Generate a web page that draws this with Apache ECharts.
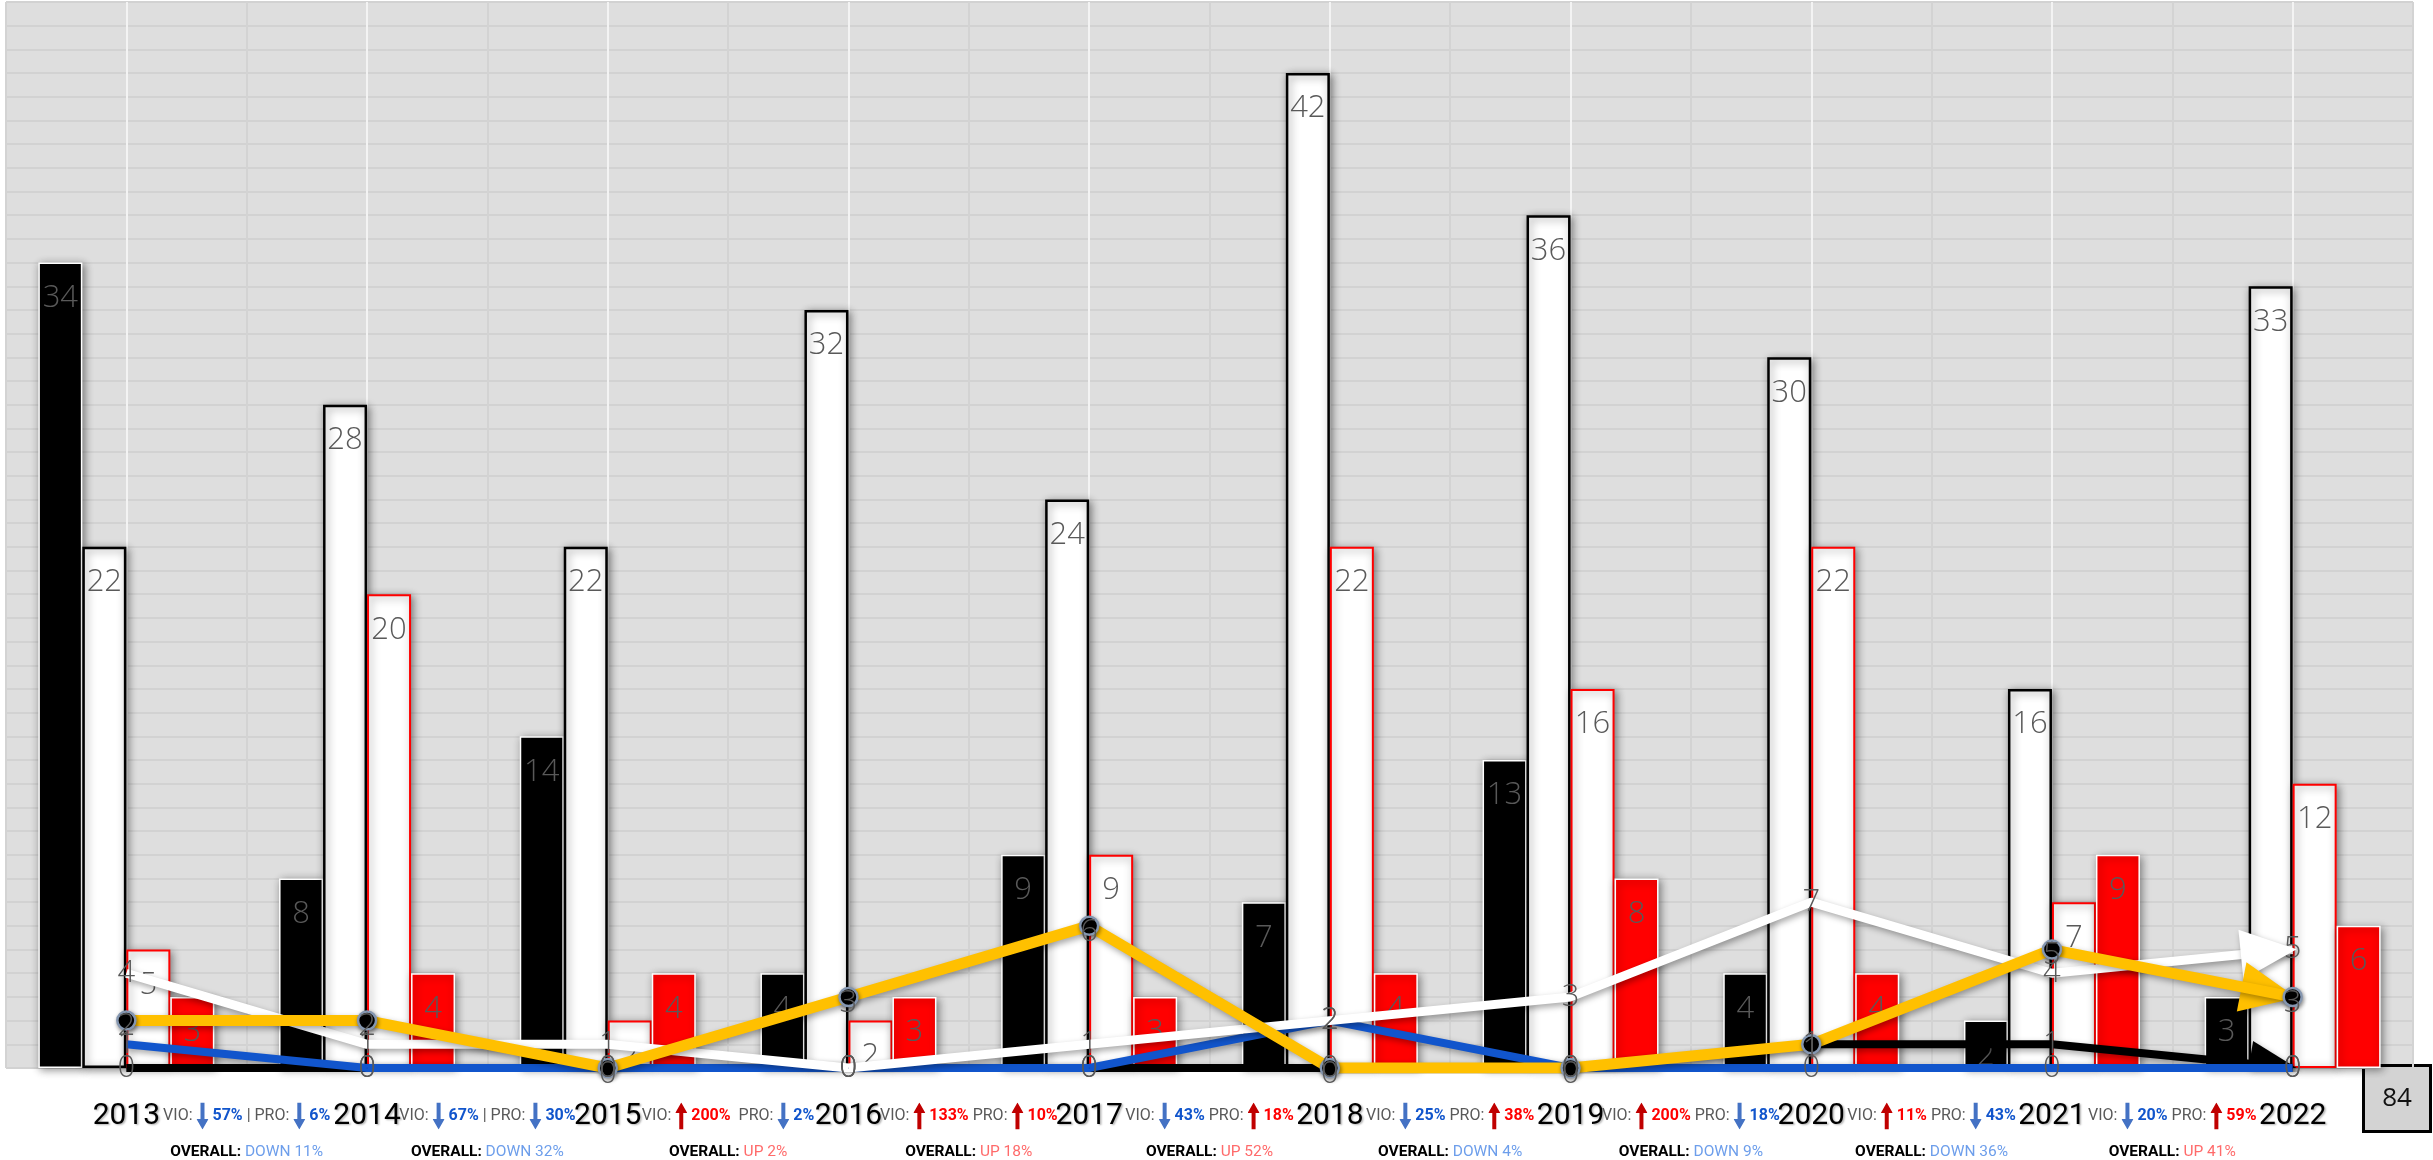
<!DOCTYPE html>
<html>
<head>
<meta charset="utf-8">
<script src="https://cdn.jsdelivr.net/npm/echarts@6/dist/echarts.min.js"></script>
<style>
html,body{margin:0;padding:0;background:#ffffff;}
#chart{width:2433px;height:1160px;}
</style>
</head>
<body>
<div id="chart"></div>
<script>
// ---------- DATA ----------
const years = ['2013','2014','2015','2016','2017','2018','2019','2020','2021','2022'];

const barBlack    = [34, 8, 14, 4, 9, 7, 13, 4, 2, 3];
const barWhite    = [22, 28, 22, 32, 24, 42, 36, 30, 16, 33];
const barWhiteRed = [5, 20, 2, 2, 9, 22, 16, 22, 7, 12];
const barRed      = [3, 4, 4, 3, 3, 4, 8, 4, 9, 6];

const lineWhite  = [4, 1, 1, 0, 1, 2, 3, 7, 4, 5];
const lineYellow = [2, 2, 0, 3, 6, 0, 0, 1, 5, 3];
const lineBlue   = [1, 0, 0, 0, 0, 2, 0, 0, 0, 0];
const lineBlack  = [0, 0, 0, 0, 0, 0, 0, 1, 1, 0];

// year-over-year annotations (between consecutive years)
const vioDir     = ['down','down','up','up','down','down','up','up','down'];
const vioPct     = [57, 67, 200, 133, 43, 25, 200, 11, 20];
const proDir     = ['down','down','down','up','up','up','down','down','up'];
const proPct     = [6, 30, 2, 10, 18, 38, 18, 43, 59];
const vioProSep  = [' | ', ' | ', '  ', ' ', ' ', ' ', ' ', ' ', ' '];
const overallDir = ['DOWN','DOWN','UP','UP','UP','DOWN','DOWN','DOWN','UP'];
const overallPct = [11, 32, 2, 18, 52, 4, 9, 36, 41];

const totalBox = '84';
const yMin = 0, yMax = 45, yInterval = 1;

// ---------- HELPERS ----------
const LABEL_FONT = "'Open Sans','Noto Sans',sans-serif";
const YEAR_FONT = "'Roboto','Noto Sans',sans-serif";
const ANNO_FONT = "'Roboto','Noto Sans',sans-serif";

function svgUri(svg){ return 'data:image/svg+xml;charset=utf-8,' + encodeURIComponent(svg); }
const arrowDownImg = svgUri('<svg xmlns="http://www.w3.org/2000/svg" width="12" height="28" viewBox="0 0 12 28"><path d="M4 0H8V17H12L6 28L0 17H4Z" fill="#4472C4"/></svg>');
const arrowUpImg = svgUri('<svg xmlns="http://www.w3.org/2000/svg" width="12" height="28" viewBox="0 0 12 28"><path d="M6 0L12 11H8V28H4V11H0Z" fill="#C00000"/></svg>');

// 21 slots: even = boundaries (annotations), odd = year centres
const slots = [];
for (let k = 0; k <= 20; k++) slots.push('s' + k);

function slotLabel(value, index){
  if (index % 2 === 1) return '{yr|' + years[(index - 1) / 2] + '}';
  if (index === 0 || index === 20) return '';
  const j = index / 2 - 1;
  const va = vioDir[j] === 'up' ? 'au' : 'ad';
  const vp = vioDir[j] === 'up' ? 'pu' : 'pd';
  const pa = proDir[j] === 'up' ? 'au' : 'ad';
  const pp = proDir[j] === 'up' ? 'pu' : 'pd';
  const od = overallDir[j] === 'UP' ? 'ou' : 'od';
  const l1 = '{g|VIO: }{' + va + '| }{' + vp + '| ' + vioPct[j] + '%}{g|' + vioProSep[j] + 'PRO: }{' + pa + '| }{' + pp + '| ' + proPct[j] + '%}';
  const l2 = '{ov|OVERALL: }{' + od + '|' + overallDir[j] + ' ' + overallPct[j] + '%}';
  return l1 + '\n' + l2;
}

const dataLabel = {show:true, fontFamily:LABEL_FONT, fontWeight:300, fontSize:31, color:'#595959'};
const barShadow = {shadowColor:'rgba(0,0,0,0.45)', shadowBlur:8, shadowOffsetX:2, shadowOffsetY:2};
const lineShadow = {shadowColor:'rgba(0,0,0,0.35)', shadowBlur:6, shadowOffsetX:2, shadowOffsetY:3};

function barSeries(name, data, fill, border, bw){
  return {
    type:'bar', name, data, xAxisIndex:0, yAxisIndex:0, z:2,
    barWidth:44, barGap:'0%',
    itemStyle: Object.assign({color:fill, borderColor:border, borderWidth:bw}, barShadow),
    label: Object.assign({position:'insideTop', distance:20}, dataLabel),
    emphasis:{disabled:true}
  };
}

function lineSeries(name, data, color, width, extra){
  return Object.assign({
    type:'line', name, data, xAxisIndex:0, yAxisIndex:0, z:3,
    symbol:'circle', symbolSize:0.5, showSymbol:true,
    itemStyle:{color:color},
    lineStyle: Object.assign({color:color, width:width}, lineShadow),
    label: Object.assign({position:'inside'}, dataLabel),
    emphasis:{disabled:true}
  }, extra || {});
}

function clampPts(pts, r){
  return pts.map(function(p){
    return [Math.min(Math.max(p[0], r.x), r.x + r.width), Math.min(Math.max(p[1], r.y), r.y + r.height)];
  });
}

// arrow head at the last point of a line: data item = [lastIndex, lastValue, previousValue]
function arrowSeries(name, lastIdx, lineData, color, len, wid){
  return {
    type:'custom', name, xAxisIndex:0, yAxisIndex:0, z:3,
    coordinateSystem:'cartesian2d',
    data: [[lastIdx, lineData[lastIdx], lineData[lastIdx - 1]]],
    encode:{x:0, y:1},
    renderItem: function(params, api){
      const i = api.value(0);
      const p1 = api.coord([i, api.value(1)]);
      const p0 = api.coord([i - 1, api.value(2)]);
      const dx = p1[0]-p0[0], dy = p1[1]-p0[1];
      const d = Math.sqrt(dx*dx + dy*dy) || 1;
      const ux = dx/d, uy = dy/d;
      const tip = [p1[0] + ux*4, p1[1] + uy*4];
      const bx = tip[0] - ux*len, by = tip[1] - uy*len;
      const pts = [tip, [bx - uy*wid/2, by + ux*wid/2], [bx + uy*wid/2, by - ux*wid/2]];
      const cs = params.coordSys;
      const clipped = clampPts(pts, {x:cs.x, y:cs.y, width:cs.width, height:cs.height});
      return {
        type:'polygon',
        z2: 10,
        shape:{points: clipped},
        style:{fill: color, shadowColor:'rgba(0,0,0,0.35)', shadowBlur:6, shadowOffsetX:2, shadowOffsetY:3}
      };
    },
    silent:true
  };
}

const annoTok = {fontFamily:ANNO_FONT, fontSize:16, lineHeight:40};
function tok(extra){ return Object.assign({}, annoTok, extra); }

// ---------- CHART ----------
const chart = echarts.init(document.getElementById('chart'), null, {renderer:'canvas'});

const option = {
  animation:false,
  backgroundColor:'#ffffff',
  grid:{left:6, right:20, top:2, bottom:91, show:true, backgroundColor:'#dedede', borderColor:'#d4d4d4', borderWidth:1, containLabel:false},
  xAxis:[
    {type:'category', data:years, boundaryGap:true, axisLine:{show:false}, axisTick:{show:false}, axisLabel:{show:false}, splitLine:{show:false}},
    {type:'category', data:slots, boundaryGap:false, position:'bottom',
     axisLine:{show:false}, axisTick:{show:false},
     splitLine:{show:true, interval:0, lineStyle:{color:['#d3d3d3','#f3f3f3'], width:2}},
     axisLabel:{
       show:true, interval:0, margin:28, formatter:slotLabel,
       rich:{
         yr:{fontFamily:YEAR_FONT, fontSize:30, color:'#000', lineHeight:40,
             textShadowColor:'rgba(0,0,0,0.3)', textShadowBlur:2, textShadowOffsetX:1.5, textShadowOffsetY:1.5},
         g:tok({color:'#595959'}),
         pd:tok({fontWeight:'bold', color:'#1155CC'}),
         pu:tok({fontWeight:'bold', color:'#FF0000'}),
         ad:{width:12, height:27, lineHeight:40, backgroundColor:{image:arrowDownImg}},
         au:{width:12, height:27, lineHeight:40, backgroundColor:{image:arrowUpImg}},
         ov:{fontFamily:ANNO_FONT, fontSize:15.5, fontWeight:'bold', color:'#000', lineHeight:32},
         od:{fontFamily:ANNO_FONT, fontSize:15.5, color:'#6D9EEB', lineHeight:32},
         ou:{fontFamily:ANNO_FONT, fontSize:15.5, color:'#FF6B6B', lineHeight:32}
       }
     }}
  ],
  yAxis:{type:'value', min:yMin, max:yMax, interval:yInterval,
         axisLine:{show:false}, axisTick:{show:false}, axisLabel:{show:false},
         splitLine:{show:true, lineStyle:{color:'#d2d2d2', width:2}}},
  series:[
    barSeries('black', barBlack, '#000000', '#ffffff', 1.5),
    barSeries('white', barWhite, '#ffffff', '#000000', 2.5),
    barSeries('whiteRed', barWhiteRed, '#ffffff', '#ff0000', 2),
    barSeries('red', barRed, '#ff0000', '#ffffff', 1.5),
    lineSeries('lineBlack', lineBlack, '#000000', 8),
    arrowSeries('arrowBlack', 9, lineBlack, '#000000', 46, 46),
    lineSeries('lineBlue', lineBlue, '#1155CC', 8),
    lineSeries('lineWhite', lineWhite, '#ffffff', 9),
    arrowSeries('arrowWhite', 9, lineWhite, '#ffffff', 56, 50),
    arrowSeries('arrowYellow', 9, lineYellow, '#FFC000', 56, 50),
    lineSeries('lineYellow', lineYellow, '#FFC000', 11, {
      symbolSize:18,
      itemStyle:{color:'#000000', borderColor:'#8496B0', borderWidth:2.5, shadowColor:'rgba(0,0,0,0.4)', shadowBlur:4, shadowOffsetX:1, shadowOffsetY:2},
      label: Object.assign({position:'inside', offset:[0,6]}, dataLabel)
    })
  ],
  graphic:[{
    type:'group', right:1, top:1064,
    children:[
      {type:'rect', shape:{x:0, y:0, width:67, height:66}, style:{fill:'#d3d3d3', stroke:'#000', lineWidth:3}},
      {type:'text', x:33.5, y:33, style:{text:totalBox, textAlign:'center', textVerticalAlign:'middle', align:'center', verticalAlign:'middle', fontSize:26, fontFamily:LABEL_FONT, fill:'#111'}}
    ]
  }]
};

chart.setOption(option);
</script>
</body>
</html>
